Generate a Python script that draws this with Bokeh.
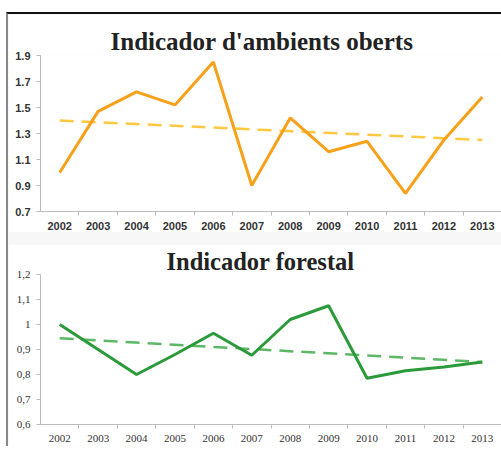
from bokeh.plotting import figure
from bokeh.layouts import column
from bokeh.models import Range1d, FixedTicker, Title
from bokeh.embed import file_html
from bokeh.resources import INLINE

years = [2002, 2003, 2004, 2005, 2006, 2007, 2008, 2009, 2010, 2011, 2012, 2013]
oberts = [1.00, 1.47, 1.62, 1.52, 1.85, 0.90, 1.42, 1.16, 1.24, 0.84, 1.25, 1.58]
oberts_trend = [1.40, 1.25]
forestal = [1.00, 0.90, 0.80, 0.88, 0.965, 0.877, 1.02, 1.075, 0.785, 0.815, 0.83, 0.85]
forestal_trend = [0.945, 0.85]
top_ticks = [0.7, 0.9, 1.1, 1.3, 1.5, 1.7, 1.9]
bot_ticks = [0.6, 0.7, 0.8, 0.9, 1.0, 1.1, 1.2]
bot_tick_labels = ["0,6", "0,7", "0,8", "0,9", "1", "1,1", "1,2"]

W = 493


def base(h, ymin, ymax, ticks, title, bt, bb, label_font, label_style, label_size,
         tsize, toffset, tstand):
    p = figure(width=W, height=h, output_backend="svg", toolbar_location=None,
               x_range=Range1d(years[0] - 0.5, years[-1] + 0.5),
               y_range=Range1d(ymin, ymax),
               min_border_left=32, min_border_right=0,
               min_border_top=bt, min_border_bottom=bb)
    p.title = None
    t = Title(text=title, text_font="Liberation Serif", text_font_size=tsize,
              text_font_style="bold", text_color="#222222", align="left",
              offset=toffset, standoff=tstand)
    p.add_layout(t, "above")
    p.outline_line_color = None
    p.xgrid.visible = False
    p.ygrid.visible = False
    p.background_fill_color = "white"
    p.border_fill_color = "white"
    p.xaxis.ticker = FixedTicker(ticks=years, minor_ticks=[y + 0.5 for y in years])
    p.xaxis.major_tick_out = 0
    p.xaxis.major_tick_in = 0
    p.xaxis.minor_tick_out = 4
    p.xaxis.minor_tick_in = 0
    p.yaxis.ticker = FixedTicker(ticks=ticks)
    p.yaxis.major_tick_out = 4
    p.yaxis.major_tick_in = 0
    p.yaxis.minor_tick_line_color = None
    for ax in (p.xaxis, p.yaxis):
        ax.axis_line_color = "#bbbbbb"
        ax.major_tick_line_color = "#bbbbbb"
        ax.minor_tick_line_color = "#bbbbbb"
        ax.major_label_text_font = label_font
        ax.major_label_text_font_style = label_style
        ax.major_label_text_font_size = label_size
        ax.major_label_text_color = "#333333"
        ax.major_label_standoff = 6
    p.xaxis.minor_tick_line_color = "#bbbbbb"
    return p


p1 = base(218, 0.7, 1.9, top_ticks, "Indicador d'ambients oberts", 41, 17,
          "Liberation Sans", "bold", "11px", "25px", 70, 2)
p1.line([years[0], years[-1]], oberts_trend, line_color="#FFC842", line_width=2.5,
        line_dash="14 8")
p1.line(years, oberts, line_color="#F7A11A", line_width=3)

p2 = base(202, 0.6, 1.2, bot_ticks, "Indicador forestal", 30, 22,
          "Liberation Serif", "normal", "11px", "24.5px", 126, 0)
p2.yaxis.major_label_overrides = {t: l for t, l in zip(bot_ticks, bot_tick_labels)}
p2.line([years[0], years[-1]], forestal_trend, line_color="#5DB866", line_width=2.5,
        line_dash="14 8")
p2.line(years, forestal, line_color="#2A9A3A", line_width=3)

layout = column(p1, p2, spacing=12,
                styles={"border-top": "2px solid #111111",
                        "border-left": "2px solid #888888",
                        "margin-top": "12px", "margin-left": "6px",
                        "background-color": "#f7f7f7"})
open("out.html", "w").write(file_html(layout, INLINE))
